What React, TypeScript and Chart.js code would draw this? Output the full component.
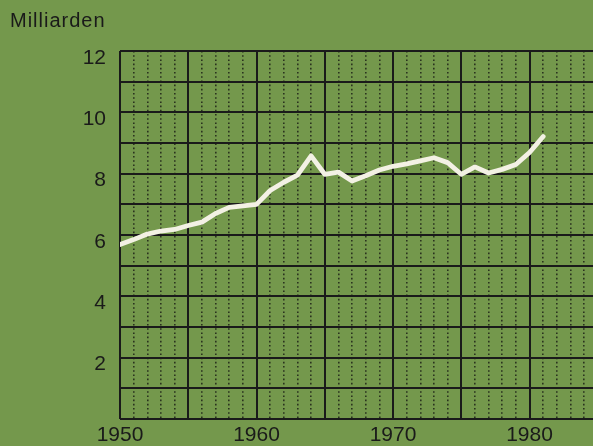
import React, { useEffect, useRef } from "react";
import { Chart, registerables } from "chart.js";

Chart.register(...registerables);

// ---- data ----
const years = [
  1950, 1951, 1952, 1953, 1954, 1955, 1956, 1957, 1958, 1959,
  1960, 1961, 1962, 1963, 1964, 1965, 1966, 1967, 1968, 1969,
  1970, 1971, 1972, 1973, 1974, 1975, 1976, 1977, 1978, 1979,
  1980, 1981,
];
const values = [
  5.69, 5.85, 6.03, 6.13, 6.18, 6.31, 6.42, 6.7, 6.9, 6.95,
  7.0, 7.45, 7.72, 7.95, 8.58, 7.98, 8.05, 7.76, 7.93, 8.12,
  8.24, 8.32, 8.42, 8.52, 8.36, 7.98, 8.22, 8.02, 8.14, 8.3,
  8.69, 9.21,
];
const xTickLabels = ["1950", "1960", "1970", "1980"];
const yTickLabels = ["2", "4", "6", "8", "10", "12"];
const unitLabel = "Milliarden";

// ---- styles ----
const BG = "#74984c";
const INK = "#1a1a1a";
const LINE = "#f3f1e4";
const FONT = '"Liberation Sans", Arial, sans-serif';

const isInt = (v: number) => Math.abs(v - Math.round(v)) < 1e-9;

export default function App() {
  const ref = useRef<HTMLCanvasElement>(null);

  useEffect(() => {
    const chart = new Chart(ref.current as HTMLCanvasElement, {
      type: "line",
      data: {
        datasets: [
          {
            data: years.map((yr, i) => ({ x: yr, y: values[i] })),
            borderColor: LINE,
            borderWidth: 4.8,
            pointRadius: 0,
            tension: 0,
            borderJoinStyle: "round",
            borderCapStyle: "round",
            fill: false,
          },
        ],
      },
      options: {
        responsive: false,
        animation: false,
        layout: { padding: { top: 51, left: 0, right: 0, bottom: 0 } },
        plugins: {
          legend: { display: false },
          tooltip: { enabled: false },
          title: { display: false },
        },
        scales: {
          x: {
            type: "linear",
            position: "bottom",
            min: 1950,
            max: 1984.65,
            afterBuildTicks: (s: any) => {
              s.ticks = s.ticks.filter(
                (t: any) => isInt(t.value) && Math.round(t.value) % 5 === 0
              );
            },
            afterFit: (s: any) => {
              s.height = 27;
            },
            ticks: {
              stepSize: 5,
              includeBounds: false,
              autoSkip: false,
              maxRotation: 0,
              padding: 4,
              color: INK,
              font: { family: FONT, size: 21 },
              callback: (v: any) =>
                xTickLabels.includes(String(v)) ? String(v) : "",
            },
            grid: { color: INK, lineWidth: 2, drawTicks: false },
            border: { display: false },
          },
          x2: {
            type: "linear",
            position: "bottom",
            min: 1950,
            max: 1984.65,
            afterBuildTicks: (s: any) => {
              s.ticks = s.ticks.filter(
                (t: any) => isInt(t.value) && Math.round(t.value) % 5 !== 0
              );
            },
            afterFit: (s: any) => {
              s.height = 0;
            },
            ticks: { stepSize: 1, includeBounds: false, display: false },
            grid: { color: "#2a321f", lineWidth: 1.6, drawTicks: false },
            border: { display: false, dash: [1.6, 2.6] },
          },
          y: {
            type: "linear",
            position: "left",
            min: 0,
            max: 12,
            afterFit: (s: any) => {
              s.width = 120;
            },
            ticks: {
              stepSize: 1,
              autoSkip: false,
              padding: 14,
              labelOffset: 7,
              color: INK,
              font: { family: FONT, size: 21 },
              callback: (v: any) =>
                yTickLabels.includes(String(v)) ? String(v) : "",
            },
            grid: { color: INK, lineWidth: 2, drawTicks: false },
            border: { display: false },
          },
        },
      },
    } as any);
    return () => chart.destroy();
  }, []);

  return (
    <div
      style={{
        position: "absolute",
        left: 0,
        top: 0,
        width: 593,
        height: 446,
        background: BG,
        overflow: "hidden",
      }}
    >
      <div
        style={{
          position: "absolute",
          left: 10,
          top: 9,
          fontFamily: FONT,
          fontSize: 20,
          lineHeight: "23px",
          letterSpacing: "1px",
          color: INK,
          whiteSpace: "nowrap",
        }}
      >
        {unitLabel}
      </div>
      <canvas
        ref={ref}
        width={593}
        height={446}
        style={{ display: "block", width: 593, height: 446 }}
      />
    </div>
  );
}
